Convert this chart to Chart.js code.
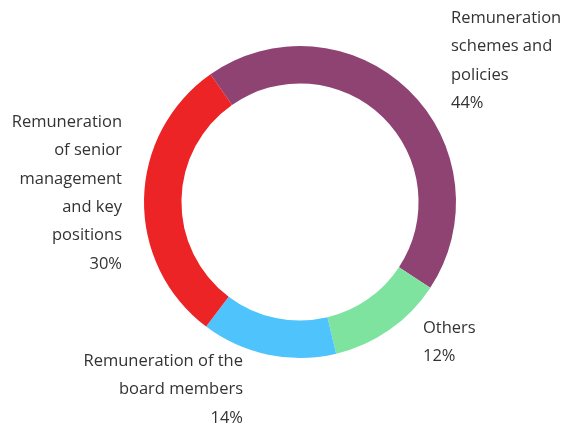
<!DOCTYPE html>
<html>
<head>
<meta charset="utf-8">
<script src="https://cdn.jsdelivr.net/npm/chart.js@4"></script>
<style>
  html, body { margin: 0; padding: 0; background: #fff; }
  #wrap { width: 563px; height: 428px; position: relative; }
</style>
</head>
<body>
<div id="wrap"><canvas id="myChart" width="563" height="428"></canvas></div>
<script>
const categories = ['Remuneration schemes and policies', 'Others', 'Remuneration of the board members', 'Remuneration of senior management and key positions'];
const shares = [44, 12, 14, 30];
const colours = ['#8f4373', '#7ee39e', '#4fc3fc', '#ec2425'];

// label text blocks, one line per entry
const labelLines = [
    ['Remuneration', 'schemes and', 'policies', '44%'],
    ['Others', '12%'],
    ['Remuneration of the', 'board members', '14%'],
    ['Remuneration', 'of senior', 'management', 'and key', 'positions', '30%']
];
const labelSpots = [
    { x: 451, y: 18, align: 'left' },
    { x: 423, y: 328, align: 'left' },
    { x: 243, y: 361, align: 'right' },
    { x: 122, y: 122, align: 'right' }
];

const sliceLabels = {
    id: 'sliceLabels',
    afterDraw(chart) {
        const ctx = chart.ctx;
        ctx.save();
        ctx.font = '16.5px "Open Sans", sans-serif';
        ctx.fillStyle = '#333333';
        ctx.textBaseline = 'middle';
        labelLines.forEach((lines, i) => {
            const spot = labelSpots[i];
            ctx.textAlign = spot.align;
            lines.forEach((line, j) => {
                ctx.fillText(line, spot.x, spot.y + j * 28.4);
            });
        });
        ctx.restore();
    }
};

new Chart(document.getElementById('myChart').getContext('2d'), {
    type: 'doughnut',
    data: {
        labels: categories,
        datasets: [{
            data: shares,
            backgroundColor: colours,
            borderWidth: 0
        }]
    },
    options: {
        responsive: false,
        animation: false,
        rotation: -35,
        cutout: '76%',
        layout: { padding: { left: 144, right: 107, top: 46, bottom: 70 } },
        plugins: {
            legend: { display: false },
            tooltip: { enabled: false }
        }
    },
    plugins: [sliceLabels]
});
</script>
</body>
</html>
